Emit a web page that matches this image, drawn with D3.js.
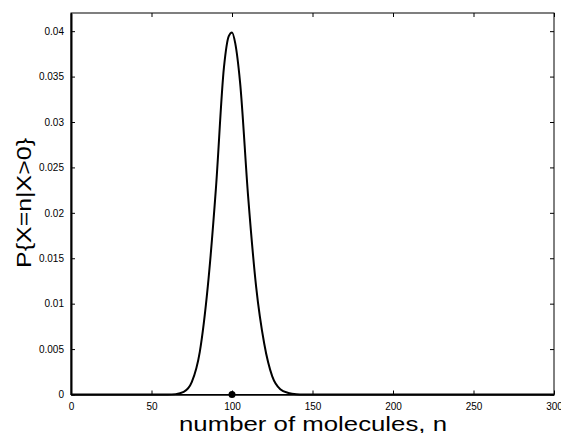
<!DOCTYPE html>
<html>
<head>
<meta charset="utf-8">
<script src="https://cdn.jsdelivr.net/npm/d3@7"></script>
<style>
  body { margin: 0; background: #fff; }
  svg { display: block; font-family: "Liberation Sans", Arial, Helvetica, sans-serif; }
  .tick text { font-size: 10px; fill: #000; }
</style>
</head>
<body>
<svg width="561" height="433"></svg>
<script>
// number of molecules and probability
const nValues = [0, 50, 55, 60, 65, 70, 75, 80, 85, 90, 95, 98, 100, 102, 105, 110, 115, 120, 125, 130, 135, 140, 145, 150, 200, 250, 300]
const probValues = [0, 0, 0.0000005, 0.000004, 0.000041, 0.00028, 0.00136, 0.0047, 0.01195, 0.02266, 0.03601, 0.03946, 0.03986, 0.03869, 0.0344, 0.02184, 0.01186, 0.00562, 0.002, 0.00058, 0.00017, 0.00003, 0.000005, 0, 0, 0, 0]

const xTicks = [0, 50, 100, 150, 200, 250, 300]
const yTicks = [0, 0.005, 0.01, 0.015, 0.02, 0.025, 0.03, 0.035, 0.04]
const yTickLabels = ["0", "0.005", "0.01", "0.015", "0.02", "0.025", "0.03", "0.035", "0.04"]

// mean marker
const meanN = [100]

const data = nValues.map((n, i) => ({n: n, p: probValues[i]}))

const svg = d3.select("svg")

const plotLeft = 71, plotRight = 554, plotTop = 13, plotBottom = 394.5

const x = d3.scaleLinear().domain([0, 300]).range([plotLeft, plotRight])
const y = d3.scaleLinear().domain([0, 0.042]).range([plotBottom, plotTop])

// box
svg.append("rect")
    .attr("x", plotLeft).attr("y", plotTop)
    .attr("width", plotRight - plotLeft).attr("height", plotBottom - plotTop)
    .attr("fill", "none").attr("stroke", "#000").attr("stroke-width", 1)

// axes with inward ticks
const xAxis = svg.append("g")
    .attr("transform", `translate(0,${plotBottom})`)
    .call(d3.axisBottom(x).tickValues(xTicks).tickSizeInner(-4).tickSizeOuter(0).tickPadding(8))
xAxis.select(".domain").attr("stroke-width", 1.5)

svg.append("g")
    .attr("transform", `translate(0,${plotTop})`)
    .call(d3.axisTop(x).tickValues(xTicks).tickSizeInner(-4).tickSizeOuter(0).tickFormat(""))
    .select(".domain").remove()

const yAxis = svg.append("g")
    .attr("transform", `translate(${plotLeft},0)`)
    .call(d3.axisLeft(y).tickValues(yTicks).tickSizeInner(-4).tickSizeOuter(0).tickPadding(7)
        .tickFormat((d, i) => yTickLabels[i]))
yAxis.select(".domain").attr("stroke-width", 2)

svg.append("g")
    .attr("transform", `translate(${plotRight},0)`)
    .call(d3.axisRight(y).tickValues(yTicks).tickSizeInner(-4).tickSizeOuter(0).tickFormat(""))
    .select(".domain").remove()

// curve
const line = d3.line()
    .x(d => x(d.n))
    .y(d => y(d.p))
    .curve(d3.curveMonotoneX)

svg.append("path")
    .datum(data)
    .attr("d", line)
    .attr("fill", "none")
    .attr("stroke", "#000")
    .attr("stroke-width", 2)

svg.selectAll("circle.mean")
    .data(meanN)
    .enter()
    .append("circle")
    .attr("class", "mean")
    .attr("cx", d => x(d))
    .attr("cy", y(0))
    .attr("r", 3.5)
    .attr("fill", "#000")

// axis titles
svg.append("text")
    .attr("x", 313)
    .attr("y", 431)
    .attr("text-anchor", "middle")
    .attr("font-size", 21)
    .attr("textLength", 268)
    .attr("lengthAdjust", "spacingAndGlyphs")
    .text("number of molecules, n")

svg.append("text")
    .attr("transform", "translate(31,203) rotate(-90)")
    .attr("text-anchor", "middle")
    .attr("font-size", 21)
    .attr("textLength", 130)
    .attr("lengthAdjust", "spacingAndGlyphs")
    .text("P{X=n|X>0}")
</script>
</body>
</html>
